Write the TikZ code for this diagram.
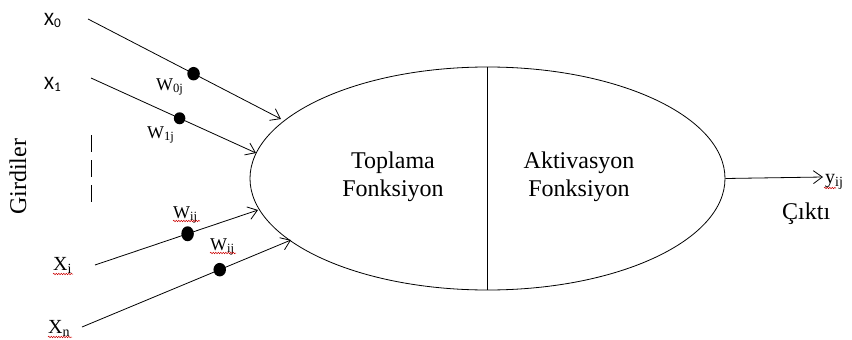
\documentclass[tikz,border=0pt]{standalone}
\usepackage{fontspec}
\setmainfont{Liberation Serif}
\newfontfamily\calfont{Carlito}
\usetikzlibrary{arrows.meta,shapes.geometric,decorations.pathmorphing}
\tikzset{
  ln/.style={line width=0.8pt},
  arr/.style={ln,-{Straight Barb[length=9pt,width=13pt,line width=0.8pt]}},
  dotn/.style={fill=black,ellipse,minimum width=12.5pt,minimum height=13.5pt,inner sep=0pt},
  lbl/.style={inner sep=0pt,anchor=base west},
  big/.style={font=\fontsize{24}{28}\selectfont},
  wfont/.style={font=\fontsize{18}{20}\selectfont},
  xfont/.style={font=\fontsize{20}{22}\selectfont},
  cfont/.style={font=\calfont\fontsize{19}{21}\selectfont},
  squig/.style={red!80!black,line width=0.5pt,decorate,decoration={snake,segment length=2.5pt,amplitude=0.7pt}}
}
\begin{document}
\begin{tikzpicture}[x=1pt,y=-1pt]
\useasboundingbox (0,0) rectangle (852,340);
% neuron body
\node[draw,ln,ellipse,minimum width=475pt,minimum height=223pt,inner sep=0pt] (neuron) at (487.5,178.5) {};
\draw[ln] (neuron.north) -- (neuron.south);
\node[big,inner sep=0pt,anchor=base] (top1) at (393,168) {Toplama};
\node[big,inner sep=0pt,anchor=base] (top2) at (393,196) {Fonksiyon};
\node[big,inner sep=0pt,anchor=base] (akt1) at (579,168) {Aktivasyon};
\node[big,inner sep=0pt,anchor=base] (akt2) at (579,196) {Fonksiyon};
% inputs labels
\node[cfont,lbl] (x0) at (44,25) {X\textsubscript{0}};
\node[cfont,lbl] (x1) at (44,89) {X\textsubscript{1}};
\node[xfont,lbl] (xi) at (53,270) {X\textsubscript{i}};
\node[xfont,lbl] (xn) at (48,333) {X\textsubscript{n}};
\node[big,inner sep=0pt,rotate=90] (gird) at (18,177) {Girdiler};
% line coordinates
\coordinate (s0) at (88,19);   \coordinate (e0) at (281,119);
\coordinate (s1) at (91,78);   \coordinate (e1) at (256,153);
\coordinate (si) at (95,265);  \coordinate (ei) at (258,210);
\coordinate (sn) at (82,327);  \coordinate (en) at (291,240);
\draw[arr] (s0) -- node[dotn,pos=0.547] (d0) {} (e0);
\draw[arr] (s1) -- node[dotn,pos=0.537,minimum width=11.5pt,minimum height=12pt] (d1) {} (e1);
\draw[arr] (si) -- node[dotn,pos=0.568,minimum height=15pt] (di) {} (ei);
\draw[arr] (sn) -- node[dotn,pos=0.659] (dn) {} (en);
% weights
\node[wfont,lbl] (w0) at (156,90) {W\textsubscript{0j}};
\node[wfont,lbl] (w1) at (147,138) {W\textsubscript{1j}};
\node[wfont,lbl] (wi) at (173,218) {W\textsubscript{ij}};
\node[wfont,lbl] (wn) at (210,250) {W\textsubscript{ij}};
% dashed
\coordinate (da) at (91,135); \coordinate (db) at (91,202);
\draw[ln,dash pattern=on 17pt off 8pt] (da) -- (db);
% output
\coordinate (oe) at (823,177);
\draw[arr] (neuron.east) -- (oe);
\node[xfont,lbl] (y) at (825,183) {y\textsubscript{ij}};
\node[big,lbl] (cikti) at (782,219) {Çıktı};
% spell-check squiggles
\draw[squig] (53,274) -- (73,274);
\draw[squig] (48,337) -- (72,337);
\draw[squig] (173,221) -- (200,221);
\draw[squig] (210,253) -- (236,253);
\draw[squig] (824,188) -- (836,188);
\end{tikzpicture}
\end{document}
